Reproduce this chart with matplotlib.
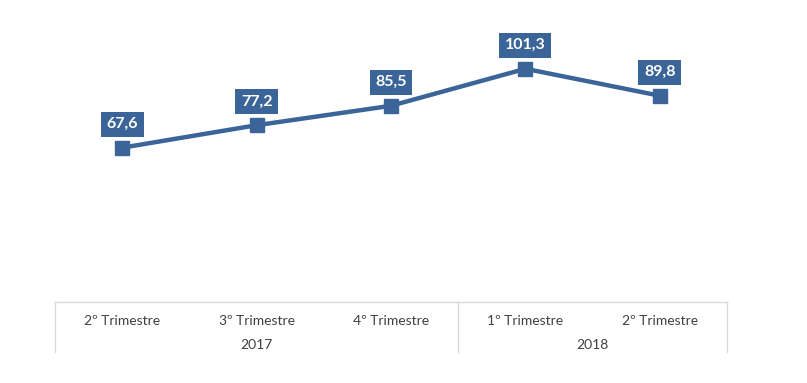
import numpy as np
import matplotlib.pyplot as plt

plt.rcParams['font.family'] = ['Lato', 'DejaVu Sans']

quarters = ['2º Trimestre', '3º Trimestre', '4º Trimestre', '1º Trimestre', '2º Trimestre']
years = ['2017', '2018']
year_spans = [3, 2]
values = [67.6, 77.2, 85.5, 101.3, 89.8]
labels = ['67,6', '77,2', '85,5', '101,3', '89,8']

blue = '#3b6598'
grid = '#d9d9d9'
text_col = '#404040'

fig = plt.figure(figsize=(8.07, 3.83), dpi=100)
ax = fig.add_axes([55 / 807, 77 / 383, 672 / 807, 281 / 383])

x = np.arange(len(values))
ax.plot(x, values, color=blue, linewidth=3.2, marker='s', markersize=10.5,
        solid_capstyle='round')

for xi, v, lab in zip(x, values, labels):
    ax.annotate(lab, (xi, v), xytext=(0, 17), textcoords='offset points',
                ha='center', va='center', color='white', fontsize=11.5,
                fontweight='bold',
                bbox=dict(boxstyle='square,pad=0.35', fc=blue, ec='none'))

ax.set_xlim(-0.5, len(values) - 0.5)
ax.set_ylim(0, 120)
ax.set_xticks([])
ax.set_yticks([])
for s in ax.spines.values():
    s.set_visible(False)

# category table under the plot
trans = ax.get_xaxis_transform()
line_y0 = 1.0 - (302 - 25) / 281
line_y1 = line_y0 - 50 / 281
ax.plot([-0.5, len(values) - 0.5], [line_y0, line_y0], color=grid, lw=1,
        transform=trans, clip_on=False)
edges = [-0.5]
for span in year_spans:
    edges.append(edges[-1] + span)
for e in edges:
    ax.plot([e, e], [line_y0, line_y1], color=grid, lw=1,
            transform=trans, clip_on=False)

for xi, q in zip(x, quarters):
    ax.text(xi, line_y0 - 19 / 281, q, transform=trans, ha='center',
            va='center', fontsize=10, color=text_col)
for i, yr in enumerate(years):
    mid = (edges[i] + edges[i + 1]) / 2
    ax.text(mid, line_y0 - 43 / 281, yr, transform=trans, ha='center',
            va='center', fontsize=10, color=text_col)

fig.savefig('out.png', dpi=100)
